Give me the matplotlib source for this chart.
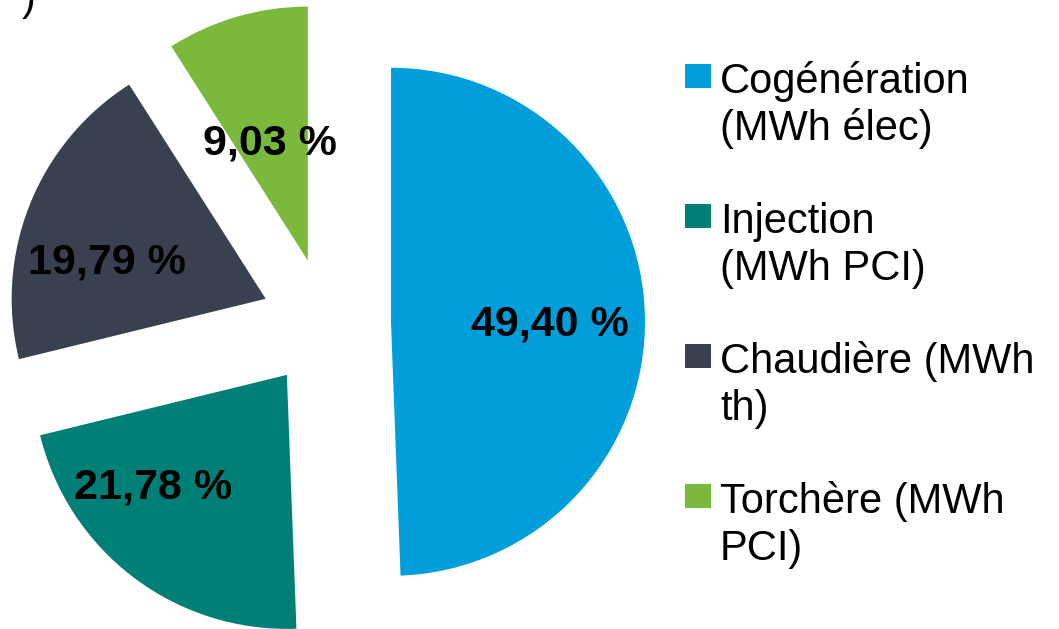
import matplotlib
matplotlib.use("Agg")
import matplotlib.pyplot as plt
from matplotlib.patches import Rectangle
import numpy as np

plt.rcParams["font.family"] = ["Liberation Sans", "DejaVu Sans"]

# data
categories = ["Cogénération\n(MWh élec)", "Injection\n(MWh PCI)",
              "Chaudière (MWh\nth)", "Torchère (MWh\nPCI)"]
shares = [49.40, 21.78, 19.79, 9.03]
colors = ["#009EDB", "#007F76", "#394050", "#7AB93C"]

# layout (pixels)
W, H = 1059, 629
R = 254.0                 # pie radius in px, used as the data unit
cx, cy = 326, 323         # pie centre, px from top-left
explode = 65 / R
lab_ang = [-5.0, -137.3, 170.8, 109.7]   # label direction from wedge tip
lab_dist = [0.628, 0.715, 0.635, 0.442]  # in radii

fig = plt.figure(figsize=(W / 100, H / 100), dpi=100)
ax = fig.add_axes([0, 0, 1, 1])
wedges, _ = ax.pie(shares, colors=colors, startangle=90, counterclock=False,
                   explode=[explode] * len(shares), radius=1.0, center=(0, 0),
                   wedgeprops=dict(linewidth=0))
ax.set_xlim(-cx / R, (W - cx) / R)
ax.set_ylim(-(H - cy) / R, cy / R)
ax.set_aspect("equal")
ax.axis("off")

for w, v, a, d in zip(wedges, shares, lab_ang, lab_dist):
    x0, y0 = w.center
    t = np.radians(a)
    ax.text(x0 + d * np.cos(t), y0 + d * np.sin(t),
            f"{v:.2f} %".replace(".", ","), ha="center", va="baseline",
            fontsize=31, fontweight="bold", color="black")

# legend drawn by hand so the square sits on the first line
def fx(px): return px / W
def fy(py): return 1 - py / H

step = 140
for i, (lab, col) in enumerate(zip(categories, colors)):
    top = 64 + step * i
    fig.patches.append(Rectangle((fx(685), fy(top + 24)), 26 / W, 24 / H,
                                 transform=fig.transFigure, color=col, lw=0))
    for j, line in enumerate(lab.split("\n")):
        fig.text(fx(720), fy(93.3 + step * i + 46.3 * j), line,
                 ha="left", va="baseline", fontsize=30, color="black")

# clipped fragment of a title above the figure
fig.text(fx(22), fy(10), ")", ha="left", va="baseline", fontsize=30, color="black")

fig.savefig("out.png", dpi=100)
